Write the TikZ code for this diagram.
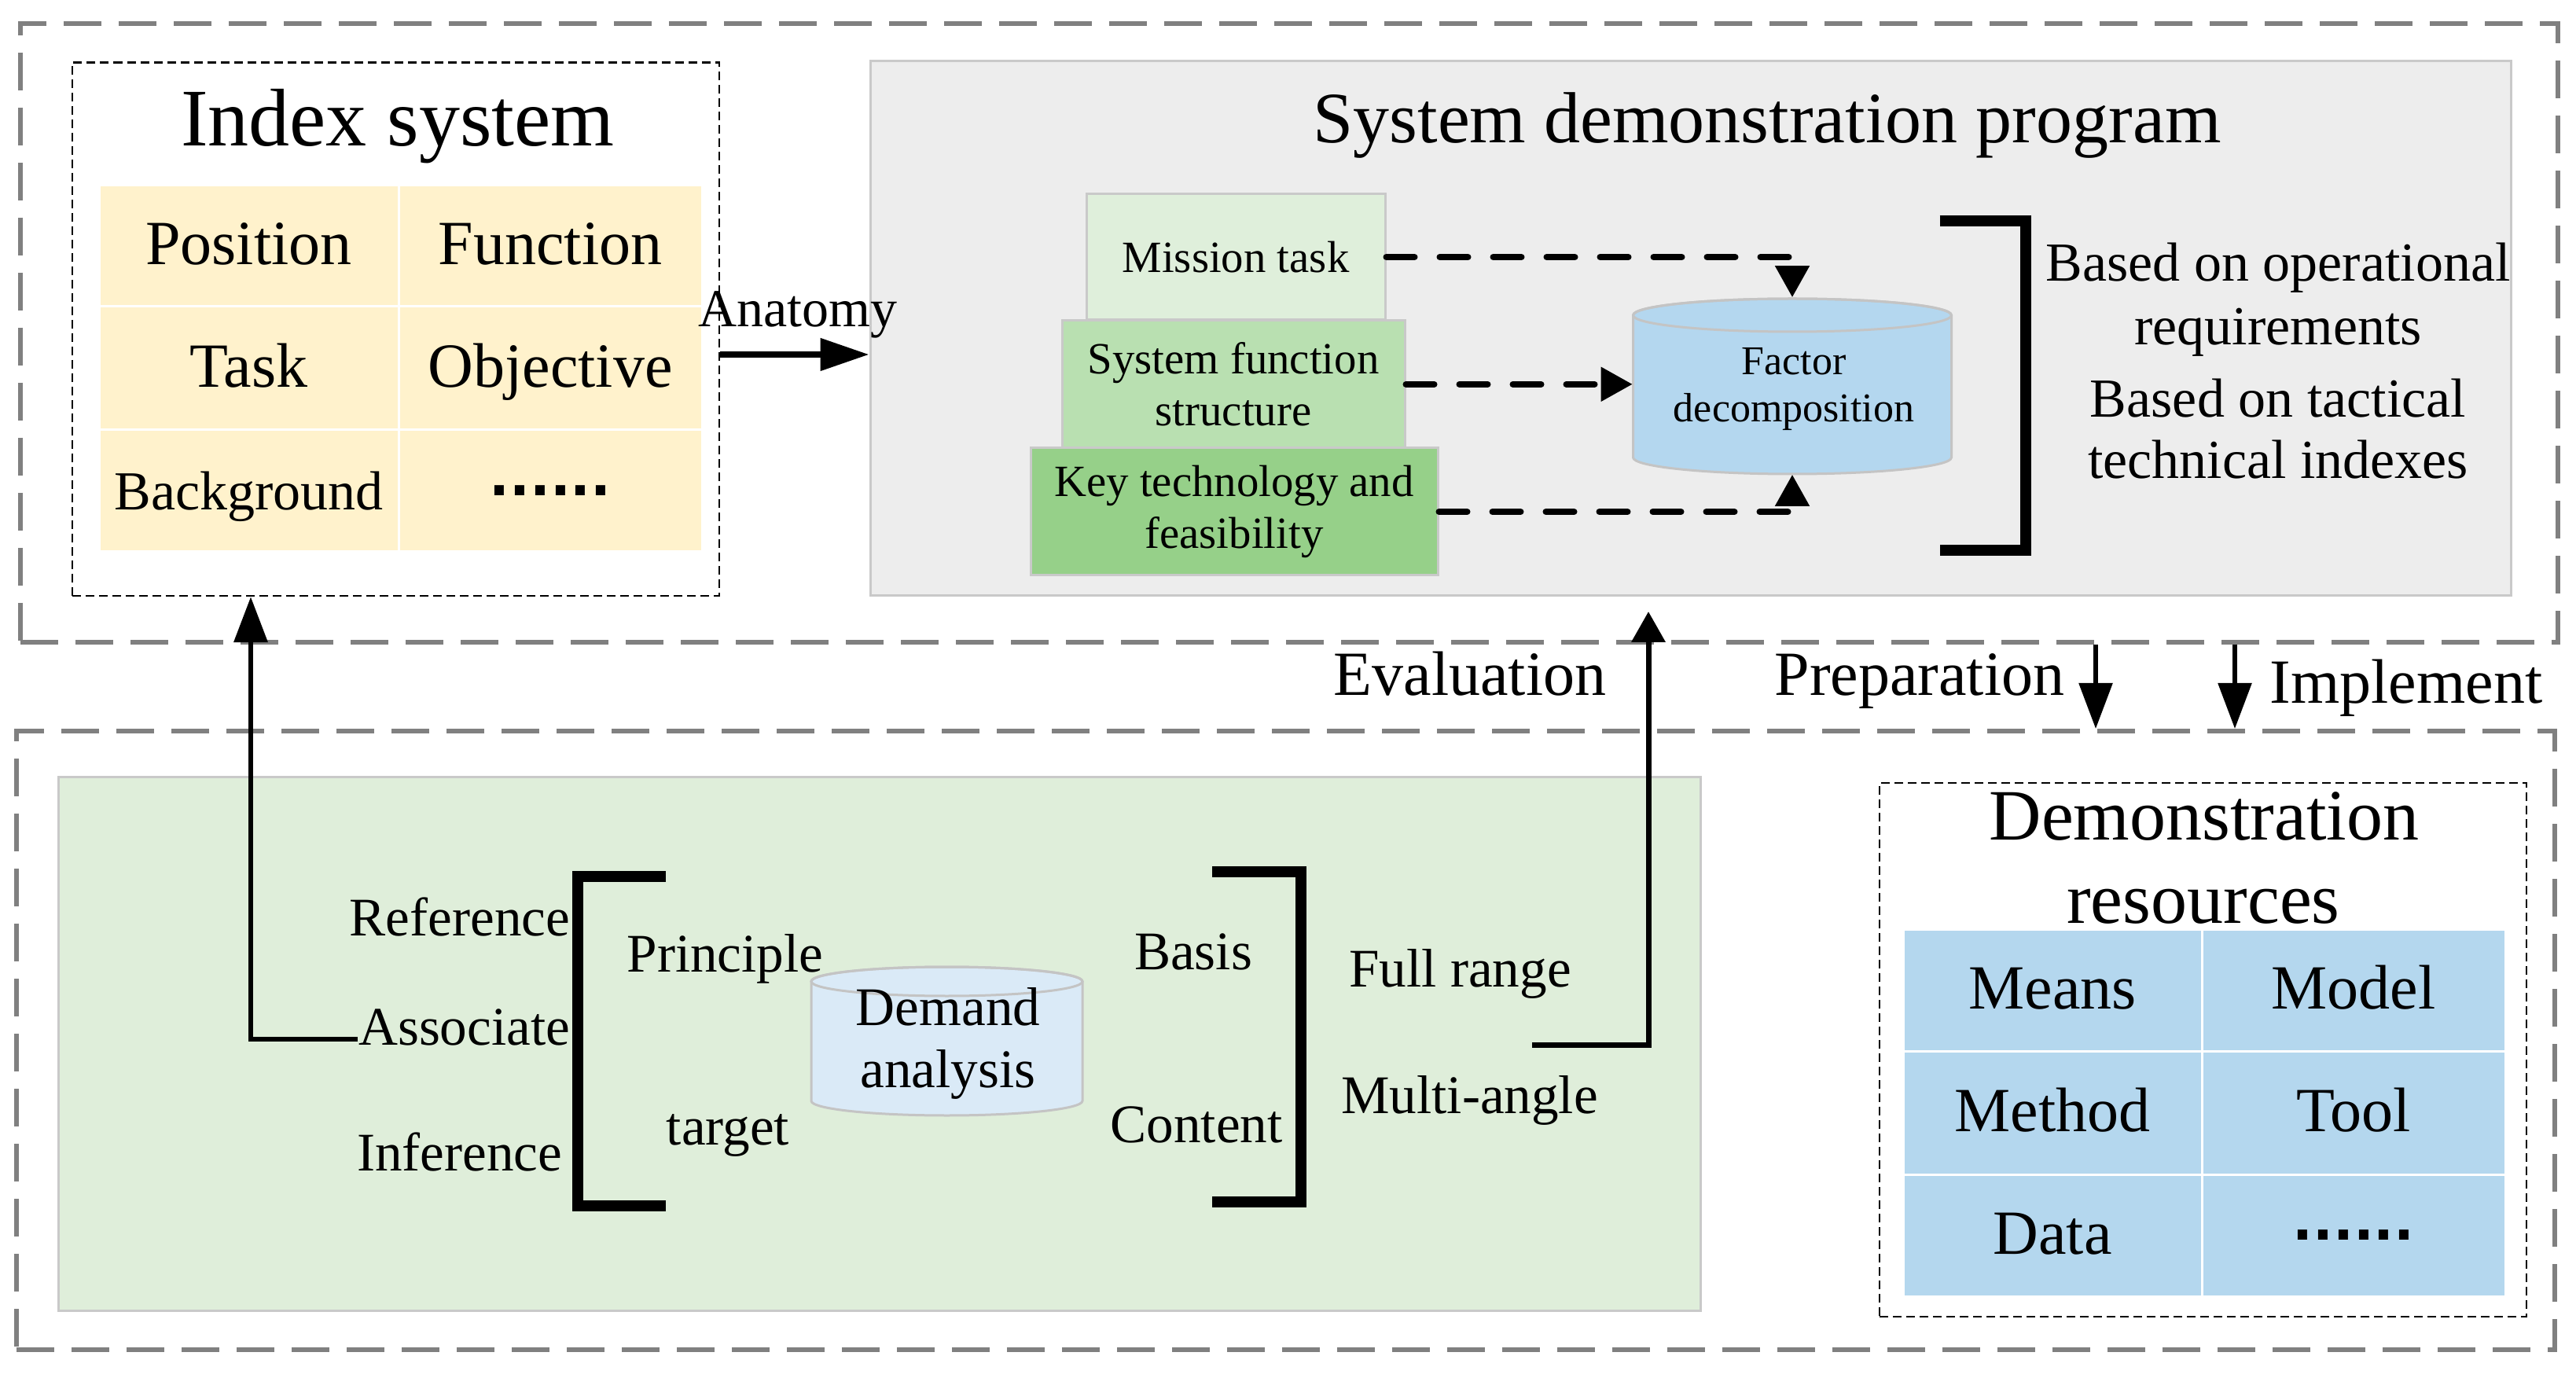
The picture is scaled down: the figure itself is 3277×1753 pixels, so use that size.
\documentclass[tikz,border=0pt]{standalone}
\usepackage{fontspec}
\setmainfont{Liberation Serif}
\newfontfamily\dotfont{DejaVu Sans}
\usetikzlibrary{arrows.meta}
\definecolor{framegray}{HTML}{808080}
\definecolor{panelborder}{HTML}{C9C9C9}
\definecolor{sdpgray}{HTML}{EDEDED}
\definecolor{idxyellow}{HTML}{FFF2CC}
\definecolor{panelgreen}{HTML}{DFEEDA}
\definecolor{mgreenA}{HTML}{DFEFDB}
\definecolor{mgreenB}{HTML}{B9E0B1}
\definecolor{mgreenC}{HTML}{96D089}
\definecolor{fdblue}{HTML}{B4D7EF}
\definecolor{dablue}{HTML}{DAEAF7}
\definecolor{tblblue}{HTML}{B4D7EE}
\definecolor{cylborder}{HTML}{C4C4C4}
\tikzset{
  outerframe/.style={draw=framegray, line width=1.5pt, dash pattern=on 12pt off 5.5pt, inner sep=0pt},
  thinbox/.style={draw=black, line width=0.6pt, dash pattern=on 2.75pt off 1.5pt, inner sep=0pt},
  panel/.style={draw=panelborder, line width=0.75pt, inner sep=0pt},
  cell/.style={draw=white, line width=0.75pt, inner sep=0pt, text height=15pt, text depth=3pt, font=\fontsize{20pt}{24pt}\selectfont},
  layerbox/.style={draw=panelborder, line width=0.75pt, inner sep=0pt, align=center, font=\fontsize{14.2pt}{16.5pt}\selectfont},
  lbl/.style={inner sep=0pt, anchor=base},
  lble/.style={inner sep=0pt, anchor=base east},
  fA/.style={font=\fontsize{17.3pt}{20pt}\selectfont},
  fB/.style={font=\fontsize{20pt}{24pt}\selectfont},
  bigarr/.style={line width=2pt, -{Triangle[length=15.5pt,width=10pt]}},
  arrA/.style={line width=1.7pt, -{Triangle[length=14.5pt,width=10.5pt]}},
  arrB/.style={line width=1.75pt, -{Triangle[length=9.75pt,width=10.5pt]}},
  arrC/.style={line width=1.4pt, -{Triangle[length=14.5pt,width=10.5pt]}},
  darr/.style={line width=2pt, line cap=round, dash pattern=on 9pt off 8pt, -{Triangle[length=10pt,width=10.5pt]}},
  bracket/.style={line width=3.5pt, line join=miter},
  cylline/.style={draw=cylborder, line width=0.75pt}
}
\newcommand{\dotsrow}{\raisebox{4.5pt}{\dotfont\fontsize{17pt}{17pt}\selectfont\bfseries ......}}
\begin{document}
\begin{tikzpicture}[x=0.25pt,y=-0.25pt]
\useasboundingbox (0,0) rectangle (3277,1753);

% outer frames
\node[outerframe, minimum width=807pt, minimum height=196.75pt] (topframe) at (1640,423.5) {};
\node[outerframe, minimum width=807.25pt, minimum height=196.75pt] (botframe) at (1635.5,1323.5) {};

% ---------- Index system ----------
\node[thinbox, minimum width=205.75pt, minimum height=169.625pt] (idx) at (503.5,418.75) {};
\node[lbl, font=\fontsize{26pt}{30pt}\selectfont] (idxt) at (506,186) {Index system};
\node[cell, fill=idxyellow, minimum width=95.25pt, minimum height=38.5pt] (i11) at (316.5,313) {Position};
\node[cell, fill=idxyellow, minimum width=96.5pt, minimum height=38.5pt] (i12) at (700,313) {Function};
\node[cell, fill=idxyellow, minimum width=95.25pt, minimum height=39.25pt] (i21) at (316.5,468.5) {Task};
\node[cell, fill=idxyellow, minimum width=96.5pt, minimum height=39.25pt] (i22) at (700,468.5) {Objective};
\node[cell, fill=idxyellow, minimum width=95.25pt, minimum height=38.75pt, font=\fontsize{17.5pt}{20pt}\selectfont] (i31) at (316.5,624.5) {Background};
\node[cell, fill=idxyellow, minimum width=96.5pt, minimum height=38.75pt] (i32) at (700,624.5) {\dotsrow};

% ---------- System demonstration program ----------
\node[panel, fill=sdpgray, minimum width=521.75pt, minimum height=170pt] (sdp) at (2150.5,418) {};
\node[lbl, font=\fontsize{23pt}{27pt}\selectfont] (sdpt) at (2248,182) {System demonstration program};

\node[layerbox, fill=mgreenA, minimum width=95pt, minimum height=40pt] (mission) at (1572,327) {Mission task};
\node[layerbox, fill=mgreenB, minimum width=109pt, minimum height=40.6pt] (sysfun) at (1569,488.8) {System function\\structure};
\node[layerbox, fill=mgreenC, minimum width=129.5pt, minimum height=40.5pt] (keytech) at (1570,651) {Key technology and\\feasibility};

% factor decomposition cylinder
\filldraw[cylline, fill=fdblue] (2077.5,401) -- (2077.5,582)
  arc[start angle=180, end angle=360, x radius=50.625pt, y radius=5.25pt] -- (2482.5,401)
  arc[start angle=0, end angle=180, x radius=50.625pt, y radius=5.25pt] -- cycle;
\draw[cylline] (2280,401) ellipse [x radius=50.625pt, y radius=5.25pt];
\node[inner sep=0pt, minimum width=101.25pt, minimum height=56pt] (fd) at (2280,491) {};
\node[inner sep=0pt, align=center, font=\fontsize{13pt}{15pt}\selectfont] (fdt) at (2282,495) {Factor\\decomposition};

\draw[darr] (mission.east) -| (fd.north);
\draw[darr] (sysfun.east) -- (sysfun.east -| fd.west);
\draw[darr] (keytech.east) -| (fd.south);

\draw[bracket] (2467.5,281) -- (2577,281) -- (2577,700) -- (2467.5,700);
\node[lbl, font=\fontsize{17.5pt}{20pt}\selectfont] (b1) at (2898,358) {Based on operational};
\node[lbl, font=\fontsize{17.5pt}{20pt}\selectfont] (b2) at (2898,439) {requirements};
\node[lbl, font=\fontsize{17.5pt}{20pt}\selectfont] (b3) at (2898,531) {Based on tactical};
\node[lbl, font=\fontsize{17.5pt}{20pt}\selectfont] (b4) at (2898,609) {technical indexes};

% Anatomy
\node[lbl, font=\fontsize{17pt}{20pt}\selectfont] (anat) at (1015,416) {Anatomy};
\coordinate (anay) at (0,451);
\draw[bigarr] (idx.east |- anay) -- (sdp.west |- anay);

% ---------- bottom ----------
\node[panel, fill=panelgreen, minimum width=522.25pt, minimum height=169.5pt] (green) at (1118.5,1328) {};

\filldraw[cylline, fill=dablue] (1032,1248.5) -- (1032,1400.5)
  arc[start angle=180, end angle=360, x radius=43.125pt, y radius=4.625pt] -- (1377,1248.5)
  arc[start angle=0, end angle=180, x radius=43.125pt, y radius=4.625pt] -- cycle;
\draw[cylline] (1204.5,1248.5) ellipse [x radius=43.125pt, y radius=4.625pt];
\node[inner sep=0pt, align=center, font=\fontsize{17.3pt}{19.75pt}\selectfont] (da) at (1206,1327.5) {Demand\\analysis};

\draw[bracket] (847,1114.5) -- (735,1114.5) -- (735,1534) -- (847,1534);
\draw[bracket] (1542,1109) -- (1654.5,1109) -- (1654.5,1529) -- (1542,1529);

\node[lble, fA] (ref) at (726,1190) {Reference};
\node[lble, fA] (assoc) at (726,1329) {Associate};
\node[lble, fA] (infer) at (716,1489) {Inference};
\node[lbl, fA] (princ) at (922.5,1236) {Principle};
\node[lbl, fA] (targ) at (926,1456) {target};
\node[lbl, fA] (basis) at (1518,1233) {Basis};
\node[lbl, fA] (content) at (1522,1453) {Content};
\node[lbl, fA] (fullr) at (1857.5,1255) {Full range};
\node[lbl, fA] (multi) at (1869.5,1416) {Multi-angle};

\node[lbl, fB] (evalt) at (1870,885) {Evaluation};
\node[lbl, fB] (prept) at (2442,885) {Preparation};
\node[lbl, fB] (implt) at (3061,895) {Implement};

% arrows between layers
\coordinate (ax) at (319,0);
\draw[arrA] ([yshift=1.75pt]assoc.base west) -| (ax |- idx.south);
\coordinate (evs) at (1949,1329);
\coordinate (eve) at (2097,778);
\draw[arrB] (evs) -| (eve);
\coordinate (prx) at (2666,0);
\coordinate (imx) at (2843,0);
\draw[arrC] (prx |- topframe.south) -- (prx |- botframe.north);
\draw[arrC] (imx |- topframe.south) -- (imx |- botframe.north);

% ---------- Demonstration resources ----------
\node[thinbox, minimum width=205.75pt, minimum height=169.75pt] (demo) at (2802.5,1335.5) {};
\node[lbl, font=\fontsize{23pt}{27pt}\selectfont] (dt1) at (2804,1068.5) {Demonstration};
\node[lbl, font=\fontsize{23pt}{27pt}\selectfont] (dt2) at (2803,1174) {resources};
\node[cell, fill=tblblue, minimum width=95pt, minimum height=38.75pt] (d11) at (2611,1259.5) {Means};
\node[cell, fill=tblblue, minimum width=96.5pt, minimum height=38.75pt] (d12) at (2994,1259.5) {Model};
\node[cell, fill=tblblue, minimum width=95pt, minimum height=39.25pt] (d21) at (2611,1415.5) {Method};
\node[cell, fill=tblblue, minimum width=96.5pt, minimum height=39.25pt] (d22) at (2994,1415.5) {Tool};
\node[cell, fill=tblblue, minimum width=95pt, minimum height=38.75pt] (d31) at (2611,1571.5) {Data};
\node[cell, fill=tblblue, minimum width=96.5pt, minimum height=38.75pt] (d32) at (2994,1571.5) {\dotsrow};
\end{tikzpicture}
\end{document}
